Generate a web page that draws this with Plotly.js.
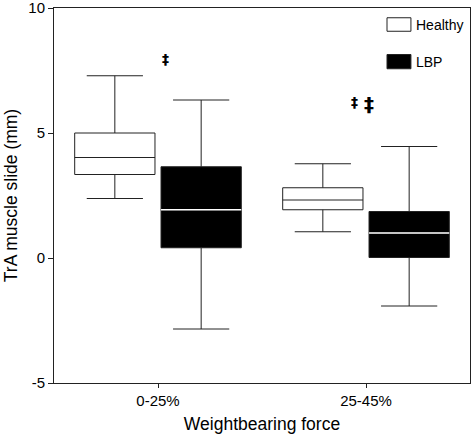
<!DOCTYPE html>
<html>
<head>
<meta charset="utf-8">
<script src="https://cdn.plot.ly/plotly-3.0.1.min.js"></script>
<style>html,body{margin:0;padding:0;background:#fff;}#chart{width:472px;height:434px;}</style>
</head>
<body>
<div id="chart"></div>
<script>
const categories = ['0-25%', '25-45%'];
const healthyLow = [2.38, 1.05];
const healthyQ1 = [3.34, 1.93];
const healthyMedian = [4.02, 2.32];
const healthyQ3 = [5.0, 2.81];
const healthyHigh = [7.29, 3.77];
const lbpLow = [-2.84, -1.92];
const lbpQ1 = [0.41, 0.02];
const lbpMedian = [1.93, 1.0];
const lbpQ3 = [3.65, 1.86];
const lbpHigh = [6.32, 4.46];
const sigText = ['‡', '‡', '‡'];
const sigX = [0.034, 0.947, 1.016];
const sigY = [7.96, 6.26, 6.16];
const sigSize = [14, 14, 20];
const yTicks = [-5, 0, 5, 10];
const legendNames = ['Healthy', 'LBP'];

const FONT = '"Liberation Sans", Arial, Helvetica, sans-serif';
const SIGFONT = '"DejaVu Sans", "Liberation Sans", sans-serif';
const LINE = '#222';

const traces = [
  {
    type: 'box', name: legendNames[0], x: categories,
    q1: healthyQ1, median: healthyMedian, q3: healthyQ3,
    lowerfence: healthyLow, upperfence: healthyHigh,
    fillcolor: '#ffffff', line: {color: LINE, width: 1},
    whiskerwidth: 0.7, boxpoints: false, offsetgroup: 'h',
    showlegend: false, hoverinfo: 'skip'
  },
  {
    type: 'box', name: legendNames[1], x: categories,
    q1: lbpQ1, median: lbpMedian, q3: lbpQ3,
    lowerfence: lbpLow, upperfence: lbpHigh,
    fillcolor: '#000000', line: {color: LINE, width: 1},
    whiskerwidth: 0.7, boxpoints: false, offsetgroup: 'l',
    showlegend: false, hoverinfo: 'skip'
  },
  {
    type: 'box', name: legendNames[1] + ' median', x: categories,
    q1: lbpMedian, median: lbpMedian, q3: lbpMedian,
    lowerfence: lbpMedian, upperfence: lbpMedian,
    fillcolor: 'rgba(0,0,0,0)', line: {color: '#ffffff', width: 1.6},
    whiskerwidth: 0, boxpoints: false, offsetgroup: 'l',
    showlegend: false, hoverinfo: 'skip'
  }
];

const annotations = sigText.map((t, i) => ({
  x: sigX[i], y: sigY[i], xref: 'x', yref: 'y', text: '<b>' + t + '</b>', showarrow: false,
  font: {family: SIGFONT, size: sigSize[i], color: '#000000'}, xanchor: 'center', yanchor: 'middle'
}));

// legend drawn as shapes + text
const legY = [[0.938, 0.974], [0.838, 0.876]];
const legFill = ['#ffffff', '#000000'];
const shapes = legendNames.map((n, i) => ({
  type: 'rect', xref: 'paper', yref: 'paper', x0: 0.8005, x1: 0.858,
  y0: legY[i][0], y1: legY[i][1], fillcolor: legFill[i], line: {color: LINE, width: 1}
}));
legendNames.forEach((n, i) => annotations.push({
  x: 0.866, y: (legY[i][0] + legY[i][1]) / 2, xref: 'paper', yref: 'paper', text: n,
  showarrow: false, xanchor: 'left', yanchor: 'middle',
  font: {family: FONT, size: 14, color: '#000'}
}));

const layout = {
  width: 472, height: 434,
  margin: {l: 54, r: 2, t: 8, b: 51, pad: 0},
  paper_bgcolor: '#fff', plot_bgcolor: '#fff',
  font: {family: FONT, color: '#000'},
  boxmode: 'group', boxgap: 0.17, boxgroupgap: 0.07,
  showlegend: false,
  xaxis: {
    type: 'category', range: [-0.5, 1.5], showgrid: false, zeroline: false,
    showline: true, linecolor: LINE, linewidth: 1, mirror: true,
    ticks: 'outside', ticklen: 4, tickcolor: LINE,
    tickfont: {family: FONT, size: 15, color: '#000'},
    title: {text: 'Weightbearing force', font: {family: FONT, size: 17.5, color: '#000'}, standoff: 10}
  },
  yaxis: {
    range: [-5, 10], tickvals: yTicks, ticktext: yTicks.map(String),
    ticklabeloverflow: 'allow',
    showgrid: false, zeroline: false,
    showline: true, linecolor: LINE, linewidth: 1, mirror: true,
    ticks: 'outside', ticklen: 5, tickcolor: LINE,
    tickfont: {family: FONT, size: 15, color: '#000'},
    title: {text: 'TrA muscle slide (mm)', font: {family: FONT, size: 17.5, color: '#000'}, standoff: 6}
  },
  shapes: shapes,
  annotations: annotations
};

Plotly.newPlot('chart', traces, layout, {staticPlot: true, displayModeBar: false});
</script>
</body>
</html>
